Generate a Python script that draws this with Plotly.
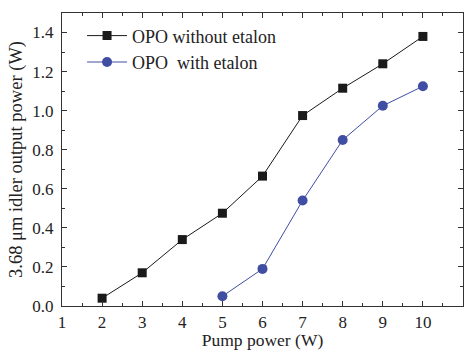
import plotly.graph_objects as go

pump_black = [2, 3, 4, 5, 6, 7, 8, 9, 10]
power_black = [0.04, 0.17, 0.34, 0.475, 0.665, 0.975, 1.115, 1.24, 1.38]
pump_blue = [5, 6, 7, 8, 9, 10]
power_blue = [0.05, 0.19, 0.54, 0.85, 1.025, 1.125]
x_ticks = [1, 2, 3, 4, 5, 6, 7, 8, 9, 10, 11]
y_ticks = [0.0, 0.2, 0.4, 0.6, 0.8, 1.0, 1.2, 1.4]

FONT = "Liberation Serif, Times New Roman, serif"
fig = go.Figure()
fig.add_trace(go.Scatter(x=pump_black, y=power_black, mode="lines+markers",
                         name="OPO without etalon",
                         line=dict(color="#1a1a1a", width=1),
                         marker=dict(symbol="square", size=9, color="#1a1a1a")))
fig.add_trace(go.Scatter(x=pump_blue, y=power_blue, mode="lines+markers",
                         name="OPO\u00a0 with etalon",
                         line=dict(color="#3f4ea3", width=1),
                         marker=dict(symbol="circle", size=10, color="#3f4ea3")))

axis_common = dict(showline=True, linecolor="#333", linewidth=1.2, mirror="allticks",
                   ticks="inside", ticklen=5, tickcolor="#333", showgrid=False,
                   zeroline=False, tickfont=dict(family=FONT, size=17, color="#222"))
fig.update_xaxes(range=[1, 11], tickvals=x_ticks, ticktext=[str(v) for v in x_ticks],
                 title=dict(text="Pump power (W)", font=dict(family=FONT, size=17.5, color="#222"), standoff=0),
                 minor=dict(ticks="inside", ticklen=3, dtick=0.5, tickcolor="#333", showgrid=False),
                 **axis_common)
fig.update_yaxes(range=[0, 1.5], tickvals=y_ticks, ticktext=[f"{v:.1f}" for v in y_ticks],
                 ticklabelstandoff=4,
                 title=dict(text="3.68 μm idler output power (W)", font=dict(family=FONT, size=18.5, color="#222"), standoff=4),
                 minor=dict(ticks="inside", ticklen=3, dtick=0.1, tickcolor="#333", showgrid=False),
                 **axis_common)
fig.update_layout(width=470, height=350, margin=dict(l=62, r=7, t=13, b=44),
                  plot_bgcolor="white", paper_bgcolor="white",
                  font=dict(family=FONT),
                  legend=dict(x=0.05, y=0.985, xanchor="left", yanchor="top",
                              font=dict(family=FONT, size=18, color="#222"),
                              bgcolor="rgba(0,0,0,0)", tracegroupgap=0, itemwidth=40))
fig.write_html("out.html")
